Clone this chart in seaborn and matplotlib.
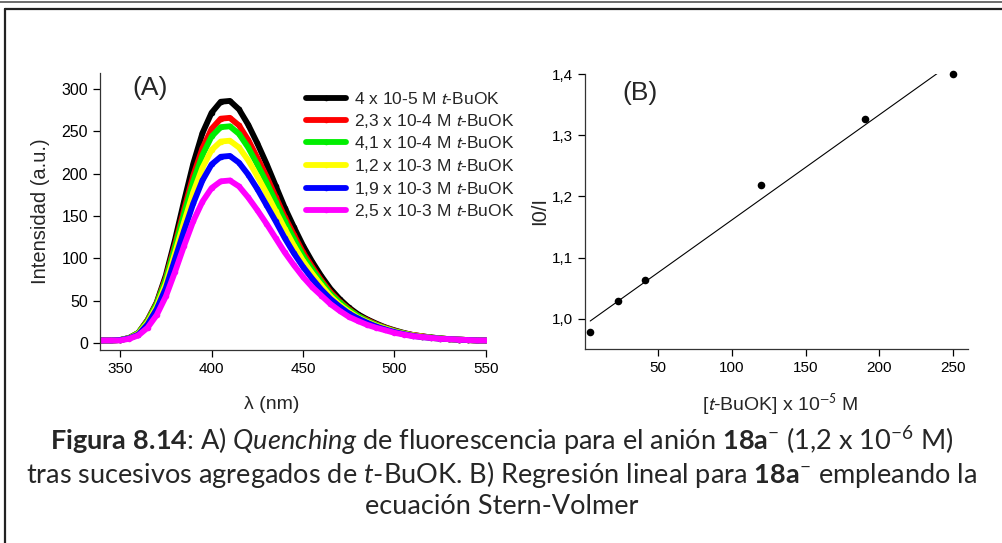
import numpy as np
import pandas as pd
import seaborn as sns
import matplotlib.pyplot as plt
from matplotlib.lines import Line2D
from matplotlib.font_manager import FontProperties
from matplotlib.ticker import FuncFormatter

# --- (A) espectros de emision ---
wl = list(range(340, 551, 5))
black = [3, 3, 3.5, 6, 12, 27, 48, 80, 122, 168, 212, 248, 272, 285, 286, 276, 258, 236, 212, 186, 160, 137,
         115, 96, 79, 64, 52, 42, 34, 28, 23, 18.5, 15, 12, 9.5, 8, 6.5, 5.5, 4.5, 4, 3.5, 3, 3]
red = [3, 3, 3.5, 6, 12, 27, 47, 77, 116, 158, 198, 230, 253, 265, 266, 257, 240, 219, 197, 173, 149, 128,
       107, 90, 74, 60, 49, 40, 32, 27, 22, 18, 14.5, 11.5, 9.5, 8, 6.5, 5.5, 4.5, 4, 3.5, 3, 3]
green = [3, 3, 3.5, 6, 12, 26, 46, 75, 113, 153, 191, 222, 244, 255, 256, 247, 231, 211, 190, 167, 144, 123,
         103, 87, 72, 58, 48, 39, 32, 26, 21.5, 17.5, 14, 11.5, 9, 7.5, 6.5, 5.5, 4.5, 4, 3.5, 3, 3]
yellow = [3, 3, 3.5, 5.5, 11, 24, 43, 70, 106, 143, 178, 207, 228, 238, 239, 231, 216, 197, 177, 156, 135, 115,
          97, 82, 68, 55, 45, 37, 30, 25, 20.5, 17, 13.5, 11, 9, 7.5, 6, 5, 4.5, 4, 3.5, 3, 3]
blue = [3, 3, 3.5, 5.5, 10, 22, 40, 65, 99, 133, 165, 192, 211, 220, 221, 213, 199, 182, 163, 144, 124, 106,
        90, 76, 63, 52, 43, 35, 29, 24, 19.5, 16, 13, 10.5, 8.5, 7, 6, 5, 4.5, 4, 3.5, 3, 3]
magenta = [3, 3, 3, 5, 9, 18, 33, 55, 84, 115, 144, 167, 183, 191, 192, 185, 172, 157, 141, 124, 107, 92,
           78, 66, 56, 46, 38, 31, 26, 21.5, 18, 15, 12, 10, 8, 7, 6, 5, 4.5, 4, 3.5, 3, 3]
labels = ['4 x 10-5 M $t$-BuOK', '2,3 x 10-4 M $t$-BuOK', '4,1 x 10-4 M $t$-BuOK',
          '1,2 x 10-3 M $t$-BuOK', '1,9 x 10-3 M $t$-BuOK', '2,5 x 10-3 M $t$-BuOK']
colores = ['black', '#ff0000', '#00ee00', '#ffff00', '#0000ff', '#ff00ff']

# --- (B) Stern-Volmer ---
conc = [4, 23, 41, 120, 190, 250]
i0_i = [0.979, 1.030, 1.063, 1.219, 1.327, 1.400]

df = pd.concat([pd.DataFrame({'wl': wl, 'I': s, 'serie': l})
                for s, l in zip([black, red, green, yellow, blue, magenta], labels)])
dfb = pd.DataFrame({'c': conc, 'r': i0_i})

sns.set_theme(style='ticks')
plt.rcParams['font.family'] = ['Liberation Sans', 'DejaVu Sans']
plt.rcParams['mathtext.fontset'] = 'custom'
plt.rcParams['mathtext.rm'] = 'Lato'
plt.rcParams['mathtext.it'] = 'Lato:italic'
plt.rcParams['mathtext.bf'] = 'Lato:bold'
plt.rcParams['axes.unicode_minus'] = False

fig = plt.figure(figsize=(10.03, 5.43), dpi=100)
ax1 = fig.add_axes([0.0997, 0.3554, 0.3848, 0.5102])
ax2 = fig.add_axes([0.5833, 0.3573, 0.3817, 0.5064])

p = sns.lineplot(data=df, x='wl', y='I', hue='serie', hue_order=labels, palette=colores,
                 lw=4.2, marker='o', markersize=4, markeredgewidth=0, ax=ax1)
ax1.set_xlim(339, 550)
ax1.set_ylim(-8.3, 319)
ax1.set_xticks([350, 400, 450, 500, 550])
ax1.set_yticks([0, 50, 100, 150, 200, 250, 300])
ax1.set_xlabel('λ (nm)', fontsize=14)
ax1.xaxis.set_label_coords(0.444, -0.165)
ax1.set_ylabel('Intensidad (a.u.)', fontsize=14.5, labelpad=8)
ax1.tick_params(axis='y', labelsize=11.5)
ax1.text(0.13, 0.946, '(A)', transform=ax1.transAxes, fontsize=19, ha='center', va='center')
leg_font = FontProperties(family='Liberation Sans', size=12.5, math_fontfamily='stixsans')
p.legend(loc='upper left', bbox_to_anchor=(0.515, 0.96), frameon=False, prop=leg_font,
         handlelength=2.3, handletextpad=0.5, labelspacing=0.27, borderaxespad=0)

sns.regplot(data=dfb, x='c', y='r', ci=None, truncate=True, ax=ax2, color='black',
            scatter_kws={'s': 30, 'linewidths': 0, 'alpha': 1, 'clip_on': False, 'zorder': 5},
            line_kws={'lw': 0.8})
ax2.set_xlim(0.5, 260)
ax2.set_ylim(0.951, 1.4)
ax2.set_xticks([50, 100, 150, 200, 250])
ax2.set_yticks([1.0, 1.1, 1.2, 1.3, 1.4])
ax2.yaxis.set_major_formatter(FuncFormatter(lambda v, pos: f'{v:.1f}'.replace('.', ',')))
ax2.set_xlabel('[$t$-BuOK] x 10$^{-5}$ M', fontsize=14, math_fontfamily='stixsans')
ax2.xaxis.set_label_coords(0.51, -0.155)
ax2.set_ylabel('I0/I', fontsize=14.5, labelpad=2)
ax2.text(0.144, 0.93, '(B)', transform=ax2.transAxes, fontsize=19, ha='center', va='center')

for ax in (ax1, ax2):
    sns.despine(ax=ax)
    ax.tick_params(direction='out', length=5, width=0.9, colors='black')
    ax.tick_params(axis='x', labelsize=11)
    for sp in ax.spines.values():
        sp.set_linewidth(0.9)
        sp.set_color('#333333')
ax2.tick_params(axis='y', labelsize=11)

# caption
cap_kw = dict(ha='center', va='center', fontsize=19.5, family='Lato')
fig.text(0.5, 1 - 441 / 543, r'$\mathbf{Figura\ 8.14}$: A) $\mathit{Quenching}$ de fluorescencia para el anión '
         r'$\mathbf{18a}^{\mathrm{-}}$ (1,2 x 10$^{\mathrm{-6}}$ M)', **cap_kw)
fig.text(0.5, 1 - 474 / 543, r'tras sucesivos agregados de $\mathit{t}$-BuOK. B) Regresión lineal para '
         r'$\mathbf{18a}^{\mathrm{-}}$ empleando la', **cap_kw)
fig.text(0.5, 1 - 506 / 543, 'ecuación Stern-Volmer', **cap_kw)

# marco
fig.add_artist(Line2D([0, 1], [1 - 1.5 / 543, 1 - 1.5 / 543], color='#555555', lw=1.2))
fig.add_artist(Line2D([5 / 1003, 1], [1 - 9 / 543, 1 - 9 / 543], color='#222222', lw=1.6))
fig.add_artist(Line2D([5 / 1003, 5 / 1003], [0, 1 - 9 / 543], color='#222222', lw=1.6))

fig.savefig('out.png', dpi=100)
